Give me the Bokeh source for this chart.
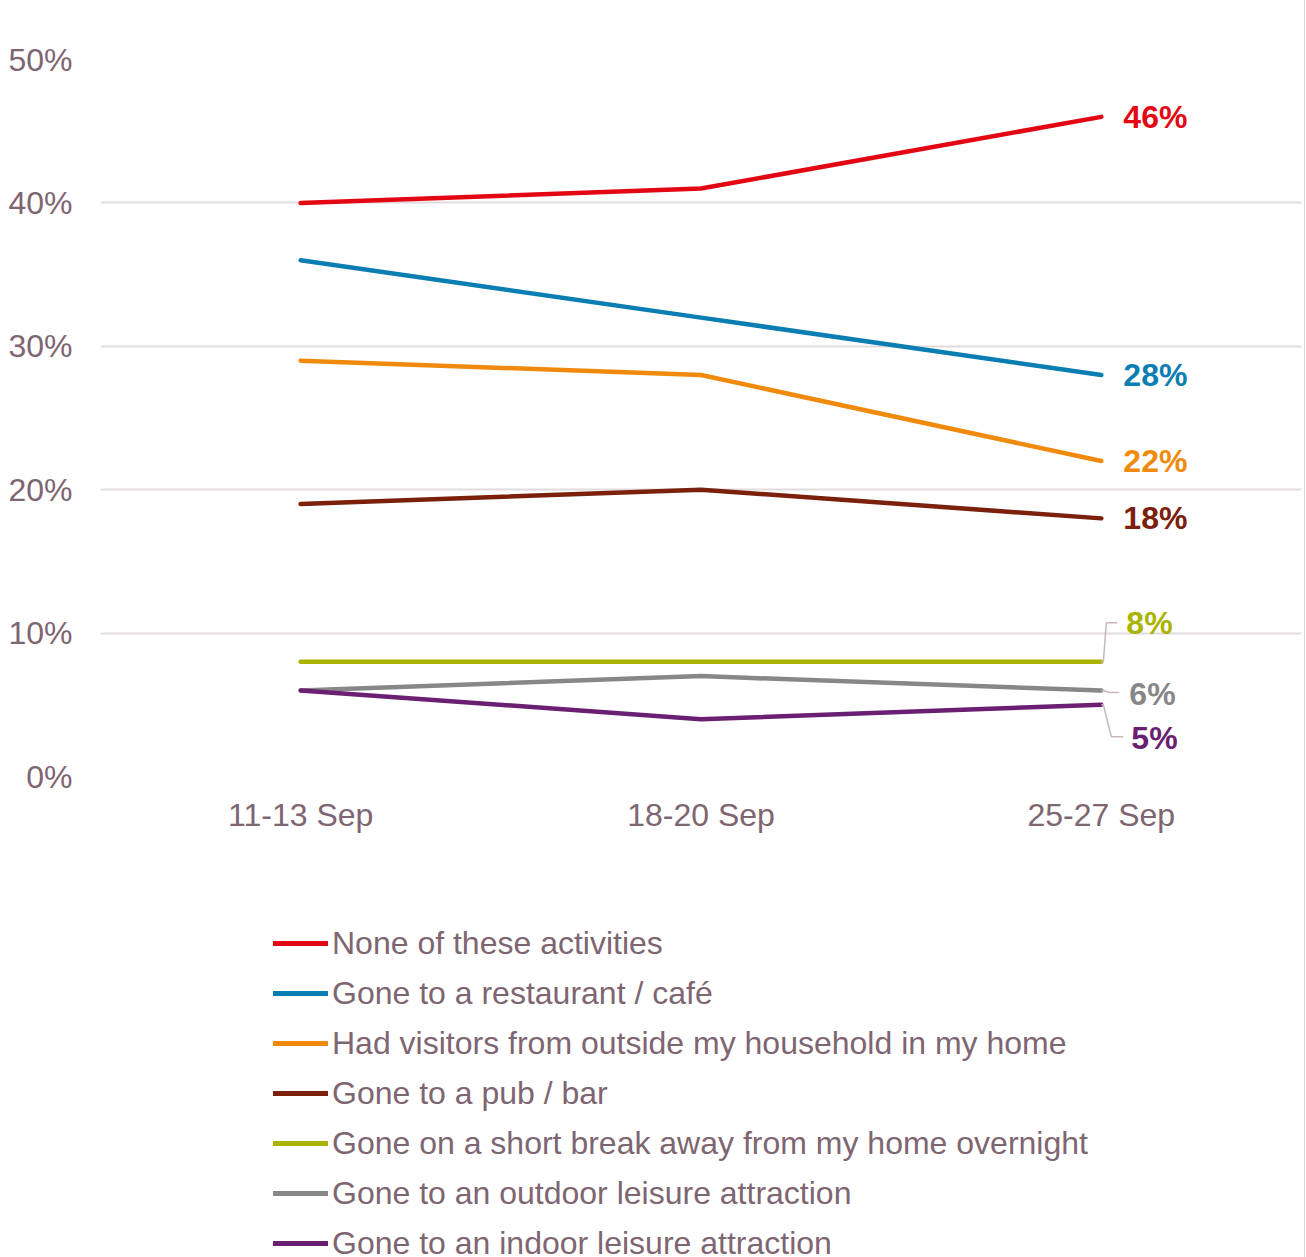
from bokeh.plotting import figure
from bokeh.layouts import column
from bokeh.models import (Range1d, FixedTicker, PrintfTickFormatter, Legend, LegendItem)
from bokeh.core.properties import value
from bokeh.embed import file_html
from bokeh.resources import INLINE

categories = ["11-13 Sep", "18-20 Sep", "25-27 Sep"]

series_names = [
    "None of these activities",
    "Gone to a restaurant / café",
    "Had visitors from outside my household in my home",
    "Gone to a pub / bar",
    "Gone on a short break away from my home overnight",
    "Gone to an outdoor leisure attraction",
    "Gone to an indoor leisure attraction",
]
none_vals = [40, 41, 46]
restaurant_vals = [36, 32, 28]
visitors_vals = [29, 28, 22]
pub_vals = [19, 20, 18]
short_break_vals = [8, 8, 8]
outdoor_vals = [6, 7, 6]
indoor_vals = [6, 4, 5]
series_values = [none_vals, restaurant_vals, visitors_vals, pub_vals,
                 short_break_vals, outdoor_vals, indoor_vals]
colors = ["#E30613", "#0A7DB3", "#F08A0C", "#7A200B", "#AAB400", "#878787", "#6B1F73"]

y_ticks = [0, 10, 20, 30, 40, 50]

# label placement (pixel offsets from the last point) and callout paths (pixels)
label_dx = [22, 22, 22, 22, 25, 28, 30]
label_dy = [0, 0, 0, 0, -39, 4, 33]
callouts = {
    4: [(2, 0), (5, -39), (16, -39)],
    5: [(2, 0), (8, 2), (18, 2)],
    6: [(2, 0), (10, 32), (22, 32)],
}

TEXT = "#7E6572"
GRID = "#E2DBDE"
FONT = "Liberation Sans"
FS = "32px"
BORDER = {"border-right": "1px solid #D9D9D9"}

W = 1305
ML, MR, MT = 100, 4, 59
FRAME_H = 717
H1 = 880
MB = H1 - MT - FRAME_H
H2 = 1257 - H1
FRAME_W = (W - 1) - ML - MR

x_pos = [i + 0.5 for i in range(len(categories))]

p = figure(width=W, height=H1, output_backend="svg", toolbar_location=None,
           x_range=Range1d(0, len(categories)), y_range=Range1d(0, 50),
           min_border_left=ML, min_border_right=MR, min_border_top=MT,
           min_border_bottom=MB)
p.outline_line_color = None
p.styles = BORDER

# axes
p.yaxis.ticker = FixedTicker(ticks=y_ticks)
p.yaxis.formatter = PrintfTickFormatter(format="%d%%")
p.yaxis.axis_line_color = None
p.yaxis.major_tick_line_color = None
p.yaxis.major_tick_out = 0
p.yaxis.minor_tick_line_color = None
p.yaxis.minor_tick_out = 0
p.yaxis.major_label_standoff = 28
p.yaxis.major_label_text_font = FONT
p.yaxis.major_label_text_font_size = FS
p.yaxis.major_label_text_color = TEXT

p.xaxis.ticker = FixedTicker(ticks=x_pos)
p.xaxis.major_label_overrides = {x: c for x, c in zip(x_pos, categories)}
p.xaxis.axis_line_color = None
p.xaxis.major_tick_line_color = None
p.xaxis.major_tick_out = 0
p.xaxis.minor_tick_line_color = None
p.xaxis.minor_tick_out = 0
p.xaxis.major_label_standoff = 20
p.xaxis.major_label_text_font = FONT
p.xaxis.major_label_text_font_size = FS
p.xaxis.major_label_text_color = TEXT

p.xgrid.grid_line_color = None
p.ygrid.ticker = FixedTicker(ticks=y_ticks)
p.ygrid.grid_line_color = GRID
p.ygrid.grid_line_width = 2

px_x = len(categories) / FRAME_W
px_y = 50 / FRAME_H

# legend figure (its line renderers lie outside its visible range)
p2 = figure(width=W, height=H2, output_backend="svg", toolbar_location=None,
            x_range=Range1d(0, 1), y_range=Range1d(-2, -1),
            x_axis_location=None, y_axis_location=None,
            min_border_left=0, min_border_right=0, min_border_top=0,
            min_border_bottom=0)
p2.outline_line_color = None
p2.grid.visible = False
p2.styles = BORDER

items = []
last_x = x_pos[-1]
for i, (name, vals, col) in enumerate(zip(series_names, series_values, colors)):
    p.line(x_pos, vals, line_color=col, line_width=4.5, line_cap="round",
           line_join="round")
    lr = p2.line(x_pos, vals, line_color=col, line_width=5, line_cap="round")
    items.append(LegendItem(label=name, renderers=[lr]))
    # callout line
    if i in callouts:
        xs = [last_x] + [last_x + dx * px_x for dx, dy in callouts[i]]
        ys = [vals[-1]] + [vals[-1] - dy * px_y for dx, dy in callouts[i]]
        p.line(xs, ys, line_color="#C9B6C0", line_width=1.5)
    # data label
    p.text(x=[last_x], y=[vals[-1]], text=[f"{vals[-1]}%"],
           x_offset=label_dx[i], y_offset=label_dy[i],
           text_font=value(FONT), text_font_style="bold", text_font_size=FS,
           text_color=col, text_baseline="middle", text_align="left")

ROW = 50
leg_top = 918 - H1
leg_h = ROW * len(items)
legend = Legend(items=items, location=(173, H2 - leg_top - leg_h),
                orientation="vertical",
                padding=0, spacing=0, margin=0, glyph_width=55, glyph_height=ROW,
                label_height=ROW, label_standoff=4,
                label_text_font=FONT, label_text_font_size=FS,
                label_text_color=TEXT, border_line_color=None,
                background_fill_alpha=0)
p2.add_layout(legend, "center")

layout = column(p, p2, spacing=0)
open("out.html", "w").write(file_html(layout, INLINE))
